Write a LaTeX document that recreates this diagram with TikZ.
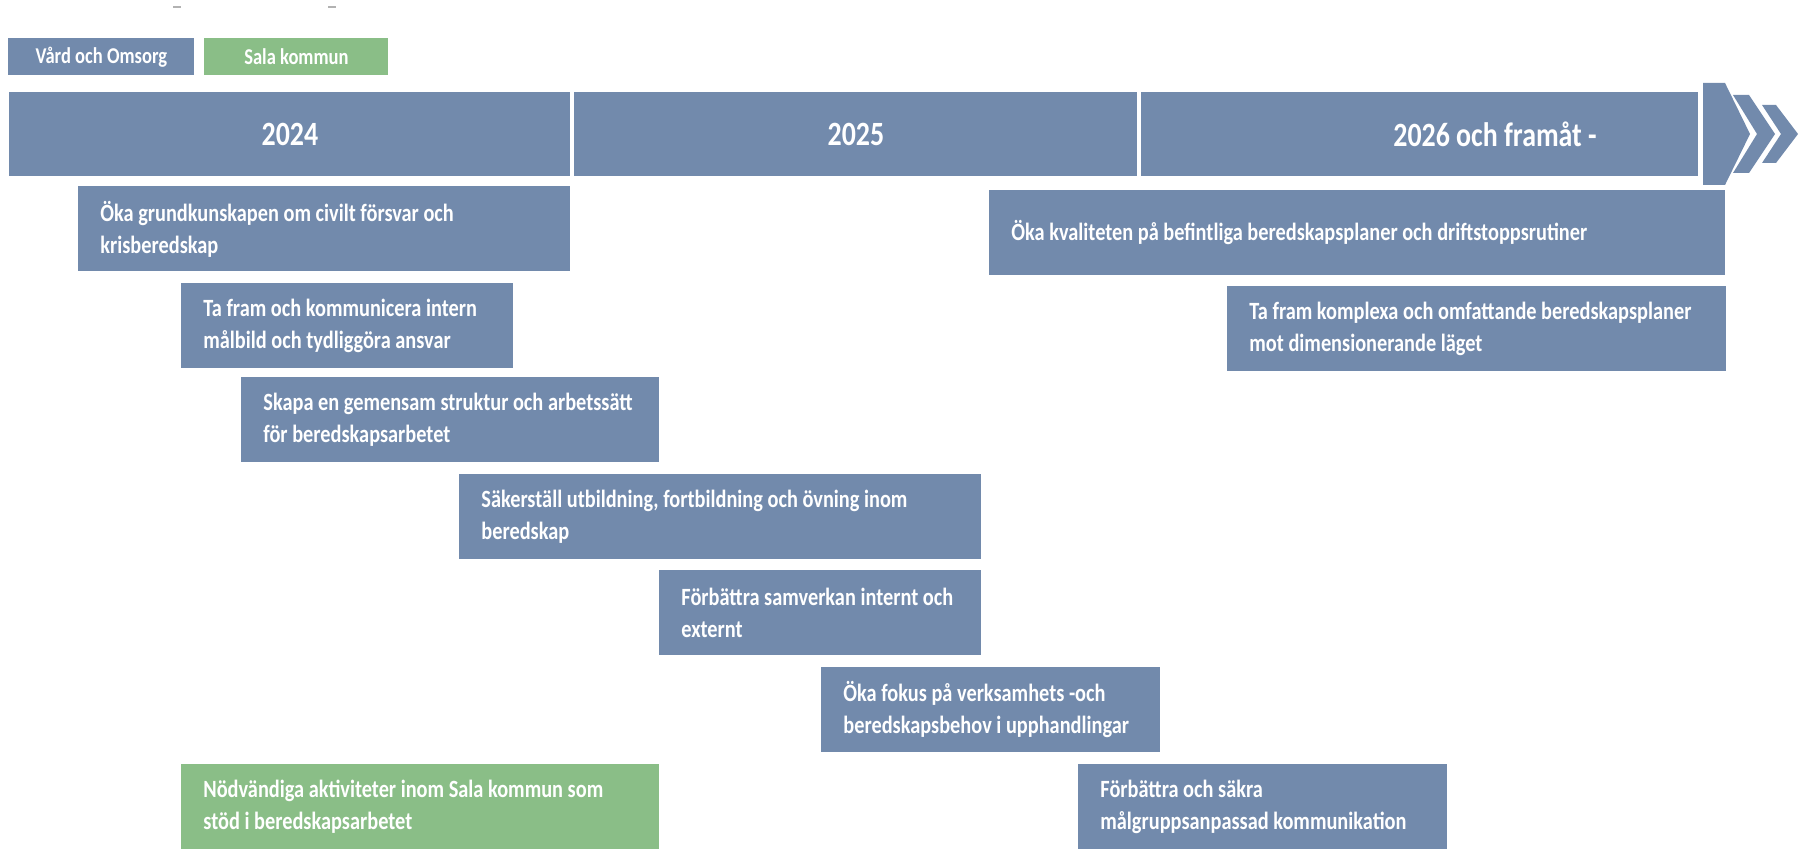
\documentclass[tikz,border=0pt]{standalone}
\usepackage{fontspec}
\setmainfont{Carlito}[FakeStretch=0.82]
\usetikzlibrary{positioning}

\definecolor{vardblue}{RGB}{114,138,172}
\definecolor{salagreen}{RGB}{138,190,135}

\begin{document}
\begin{tikzpicture}[x=0.5pt,y=-0.5pt,
    bar node/.style={fill=vardblue,text=white,anchor=north west,inner sep=0pt,
      minimum height=42pt,font=\bfseries\fontsize{17}{20}\selectfont},
    key node/.style={anchor=north west,text=white,inner sep=0pt,minimum height=18.5pt,
      minimum width=93pt,font=\bfseries\fontsize{11.3}{13}\selectfont},
    task node/.style={fill=vardblue,anchor=north west,inner sep=0pt,minimum height=42.5pt},
    task text/.style={text=white,anchor=west,align=left,inner sep=0pt,
      font=\bfseries\fontsize{12.4}{16}\selectfont}]
  \useasboundingbox (0,0) rectangle (1803,849);

  % leftover marks at the top edge
  \fill[gray!60] (173,6) rectangle (181,8);
  \fill[gray!60] (328,6) rectangle (336,8);

  % legend
  \node[key node,fill=vardblue] (vard) at (8,38) {Vård och Omsorg};
  \node[key node,fill=salagreen,minimum width=92pt] (sala) at (204,38) {Sala kommun};

  % year bar
  \node[bar node,minimum width=280.5pt] (y2024) at (9,92) {2024};
  \node[bar node,minimum width=281.5pt] (y2025) at (574,92) {2025};
  \node[bar node,minimum width=278.5pt] (y2026) at (1141,92) {};
  \node[text=white,font=\bfseries\fontsize{17}{20}\selectfont] (y2026txt) at (1495,134) {2026 och framåt -};

  % chevrons
  \fill[vardblue] (1703,83) -- (1725,83) -- (1750,134) -- (1725,185) -- (1703,185) -- cycle;
  \fill[vardblue] (1733,95) -- (1749,95) -- (1775,134) -- (1749,173) -- (1733,173) -- (1757,134) -- cycle;
  \fill[vardblue] (1762,105) -- (1776,105) -- (1798,134) -- (1776,163) -- (1762,163) -- (1781,134) -- cycle;

  % tasks: name/left/top/right/colour/text
  \foreach \n/\l/\t/\r/\c/\txt in {
      okagrund/78/186/570/vardblue/{Öka grundkunskapen om civilt försvar och\\krisberedskap},
      tafram/181/283/513/vardblue/{Ta fram och kommunicera intern\\målbild och tydliggöra ansvar},
      skapa/241/377/659/vardblue/{Skapa en gemensam struktur och arbetssätt\\för beredskapsarbetet},
      sakerstall/459/474/981/vardblue/{Säkerställ utbildning, fortbildning och övning inom\\beredskap},
      samverkan/659/570/981/vardblue/{Förbättra samverkan internt och\\externt},
      fokus/821/667/1160/vardblue/{Öka fokus på verksamhets -och\\beredskapsbehov i upphandlingar},
      kommunikation/1078/764/1447/vardblue/{Förbättra och säkra\\målgruppsanpassad kommunikation},
      kvalitet/989/190/1725/vardblue/{Öka kvaliteten på befintliga beredskapsplaner och driftstoppsrutiner},
      komplexa/1227/286/1726/vardblue/{Ta fram komplexa och omfattande beredskapsplaner\\mot dimensionerande läget},
      nodvandiga/181/764/659/salagreen/{Nödvändiga aktiviteter inom Sala kommun som\\stöd i beredskapsarbetet}} {
    \pgfmathsetmacro\bw{(\r-\l)*0.5}
    \node[task node,fill=\c,minimum width=\bw pt] (\n) at (\l,\t) {};
    \node[task text,right=11pt of \n.west,anchor=west] (\n-txt) {\txt};
  }
\end{tikzpicture}
\end{document}
